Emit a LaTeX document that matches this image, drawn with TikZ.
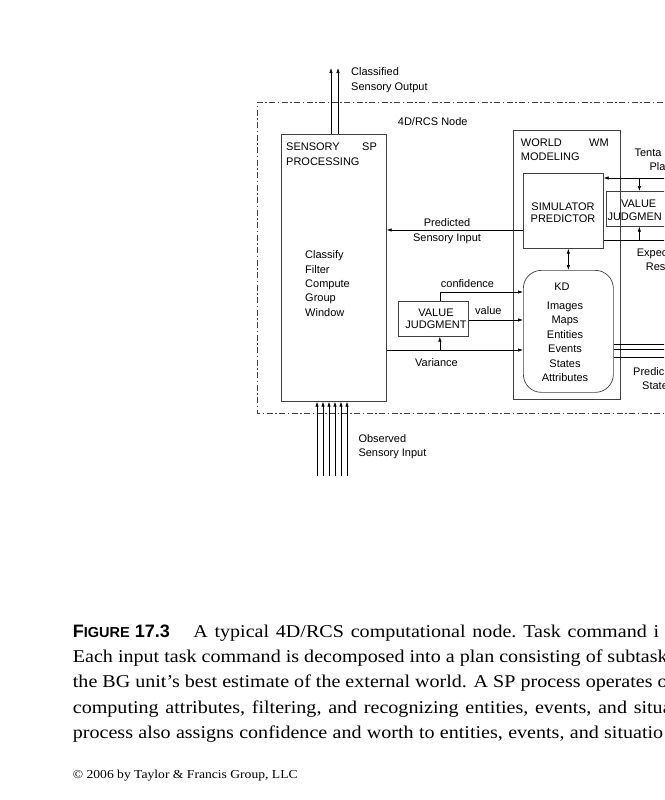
\documentclass[tikz,border=0pt]{standalone}
\usepackage{fontspec}
\setmainfont{Liberation Serif}
\setsansfont{Liberation Sans}
\newfontfamily\capfont[FakeStretch=1.115]{Liberation Serif}
\usetikzlibrary{arrows.meta,positioning}
\tikzset{
  lbl/.style={font=\sffamily\fontsize{11}{14.3}\selectfont, inner sep=0pt, anchor=base west, align=left},
  clbl/.style={lbl, anchor=base, align=center},
  box/.style={draw=black!75, line width=0.7pt, inner sep=0pt, anchor=north west},
  sig/.style={line width=0.6pt, -{Latex[length=5pt,width=3.4pt]}},
  dsig/.style={line width=0.6pt, {Latex[length=5pt,width=3.4pt]}-{Latex[length=5pt,width=3.4pt]}},
  nodeframe/.style={draw=black!75, line width=0.6pt, dash pattern=on 6pt off 2.5pt on 1.5pt off 2.5pt},
  captext/.style={font=\capfont\fontsize{18}{25.25}\selectfont, inner sep=0pt, anchor=base west, align=left}
}
\begin{document}
\begin{tikzpicture}[x=1pt,y=-1pt]
\useasboundingbox (0,0) rectangle (664,800);
\clip (0,0) rectangle (664,800);

% 4D/RCS node border
\draw[nodeframe] (700,102) -| (257.5,413) -- (700,413);
\node[lbl] (rcs) at (397.7,125.7) {4D/RCS Node};

% boxes
\node[box, minimum width=105pt, minimum height=267pt] (sp) at (281,134) {};
\node[box, minimum width=107pt, minimum height=269pt] (wm) at (513,130) {};
\node[box, minimum width=80pt, minimum height=75pt] (sim) at (523,173) {};
\node[box, minimum width=66pt, minimum height=35pt] (vjr) at (606,191) {};
\node[box, minimum width=90pt, minimum height=122pt, rounded corners=18pt] (kd) at (523,270) {};
\node[box, minimum width=70pt, minimum height=35pt] (vj) at (398,301) {};

% texts in boxes (multi-line nodes sit on their last baseline)
\node[lbl] (spname) at (286,165) {SENSORY\\PROCESSING};
\node[lbl] (sptag) at (362,150.7) {SP};
\node[lbl] (spjobs) at (305,316) {Classify\\Filter\\Compute\\Group\\Window};
\node[lbl] (wmname) at (520.7,160.3) {WORLD\\MODELING};
\node[lbl] (wmtag) at (589,146) {WM};
\node[clbl, font=\sffamily\fontsize{11}{12}\selectfont] (simname) at (563,222.7) {SIMULATOR\\PREDICTOR};
\node[clbl] (vjrtop) at (638.7,207.3) {VALUE};
\node[lbl] (vjrbot) at (607.3,220) {JUDGMEN};
\node[clbl] (kdname) at (562,290.7) {KD};
\node[clbl, font=\sffamily\fontsize{11}{14.5}\selectfont] (kdlist) at (565,381.8) {Images\\Maps\\Entities\\Events\\States\\Attributes};
\node[clbl, font=\sffamily\fontsize{11}{12.7}\selectfont] (vjname) at (436,328.7) {VALUE\\JUDGMENT};

% classified sensory output
\foreach \x in {331,338}
  {
    \coordinate (out\x) at (\x,68);
    \draw[sig] (sp.north -| out\x) -- (out\x);
  }
\node[lbl] (outlbl) at (351,90) {Classified\\Sensory Output};

% observed sensory input
\foreach \x in {317,323,329,335,341,347}
  {
    \coordinate (in\x) at (\x,476);
    \draw[sig] (in\x) -- (in\x |- sp.south);
  }
\node[lbl] (inlbl) at (358.3,456.3) {Observed\\Sensory Input};

% predicted sensory input
\coordinate (ypred) at (0,230);
\draw[sig] (sim.west |- ypred) -- (sp.east |- ypred);
\node[clbl] (predlbl) at (447,241) {Predicted\\Sensory Input};

% tentative plans and expected results
\coordinate (tp) at (700,178);
\draw[sig] (tp) -- (sim.east |- tp);
\draw[sig] (vjr.north |- tp) -- (vjr.north);
\node[lbl] (tplbl) at (634.3,156) {Tenta};
\node[lbl] (tplbl2) at (649.3,170) {Pla};
\coordinate (er) at (700,240);
\draw[line width=0.6pt] (sim.east |- er) -- (er);
\draw[sig] (vjr.south |- er) -- (vjr.south);
\node[lbl] (erlbl) at (636.7,256) {Expec};
\node[lbl] (erlbl2) at (645.7,270) {Res};

% simulator <-> knowledge
\draw[dsig] (sim.south -| kd.north) -- (kd.north);

% value judgment into KD
\coordinate (yconf) at (0,292);
\coordinate (yval) at (0,320);
\coordinate (yvar) at (0,350);
\draw[sig] ([xshift=6.5pt]vj.north) |- (kd.west |- yconf);
\draw[sig] (vj.east |- yval) -- (kd.west |- yval);
\draw[sig] (sp.east |- yvar) -- (kd.west |- yvar);
\draw[sig] ([xshift=6.5pt]vj.south |- yvar) -- ([xshift=6.5pt]vj.south);
\node[lbl] (conflbl) at (440.7,287.3) {confidence};
\node[lbl] (vallbl) at (475,314.3) {value};
\node[lbl] (varlbl) at (415,366) {Variance};

% predicted states
\foreach \y [count=\k] in {344,349.5,357.5}
  {
    \coordinate (ps\k) at (700,\y);
    \draw[line width=0.6pt] (kd.east |- ps\k) -- (ps\k);
  }
\node[lbl] (pslbl) at (633,375) {Predic};
\node[lbl] (pslbl2) at (642,389.5) {State};

% caption (justified lines, cut at the page edge)
\node[captext] (caption) at (72.7,738.3)
  {{\sffamily\bfseries F{\fontsize{14.5}{14.5}\selectfont IGURE} 17.3}\hspace{1.3em}{\spaceskip=6.8pt\xspaceskip=6.8pt A typical 4D/RCS computational node. Task command i}\\
   Each input task command is decomposed into a plan consisting of subtask\\
   the BG unit’s best estimate of the external world. A SP process operates o\\
   {\spaceskip=6.7pt\xspaceskip=6.7pt computing attributes, filtering, and recognizing entities, events, and situa}\\
   {\spaceskip=5.3pt\xspaceskip=5.3pt process also assigns confidence and worth to entities, events, and situatio}};
\node[captext, font=\capfont\fontsize{12.2}{14}\selectfont] (copyr) at (72.7,778.3) {© 2006 by Taylor \& Francis Group, LLC};
\end{tikzpicture}
\end{document}
